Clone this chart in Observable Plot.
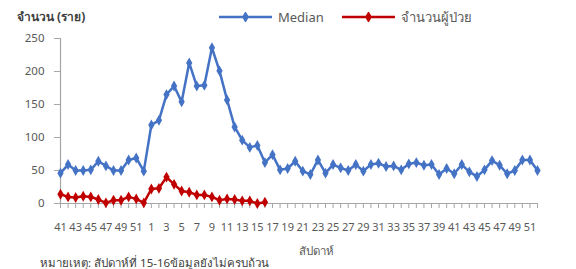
<!DOCTYPE html>
<html><head><meta charset="utf-8">
<script src="https://cdn.jsdelivr.net/npm/d3@7"></script>
<script src="https://cdn.jsdelivr.net/npm/@observablehq/plot@0.6"></script>
<style>
body{margin:0;width:576px;height:269px;overflow:hidden;background:#fff;font-family:"Noto Sans","DejaVu Sans",sans-serif;color:#595959;position:relative}
#top{position:relative;height:30px}
#title{position:absolute;left:17px;top:10px;font-weight:bold;font-size:12px;color:#404040;line-height:14px}
.leg{position:absolute;top:9px;font-size:13px;display:flex;align-items:center;line-height:16px}
.leg svg{margin-right:5px}
#xlab{position:absolute;left:0;top:244px;width:576px;text-align:left;font-size:11.5px;line-height:13px}
#xlab span{position:absolute;left:299px}
#cap{position:absolute;left:40px;top:256px;font-size:11.5px;line-height:13px;color:#404040}
#chart svg{display:block}
</style></head>
<body>
<div id="top">
  <div id="title">จำนวน (ราย)</div>
  <div class="leg" id="leg1" style="left:219px"></div>
  <div class="leg" id="leg2" style="left:342px"></div>
</div>
<div id="chart"></div>
<div id="xlab"><span>สัปดาห์</span></div>
<div id="cap">หมายเหตุ: สัปดาห์ที่ 15-16ข้อมูลยังไม่ครบถ้วน</div>
<script>
const weeks = [41,42,43,44,45,46,47,48,49,50,51,52,
  1,2,3,4,5,6,7,8,9,10,11,12,13,14,15,16,17,18,19,20,21,22,23,24,25,26,
  27,28,29,30,31,32,33,34,35,36,37,38,39,40,41,42,43,44,45,46,47,48,49,50,51,52];
const median = [46,59,50,50,51,64,57,50,50,66,69,49,
  119,126,165,178,154,213,178,179,236,201,157,116,96,85,88,62,74,51,53,64,49,44,66,46,59,54,
  50,59,49,59,61,56,57,51,60,62,58,59,44,53,45,59,48,41,51,65,58,45,50,66,66,50];
const patients = [14,10,9,11,10,6,1,5,5,10,7,1,
  22,23,40,29,19,17,13,13,10,5,7,6,4,4,0,2];
const yTicks = [0,50,100,150,200,250];
const seriesNames = ["Median","จำนวนผู้ป่วย"];
const colors = ["#4472C4","#C00000"];

const medData = median.map((v,i)=>({i,v}));
const patData = patients.map((v,i)=>({i,v}));
const font = '"Noto Sans","DejaVu Sans",sans-serif';

const chart = Plot.plot({
  width:576, height:213,
  marginTop:8, marginLeft:60, marginRight:39, marginBottom:40,
  x:{type:"linear", domain:[0, weeks.length-1]},
  y:{domain:[0,250]},
  style:{fontFamily:font, fontSize:"11px", color:"#595959", background:"#fff"},
  marks:[
    Plot.ruleX([0], {y1:0, y2:250, stroke:"#a6a6a6", strokeWidth:1.2}),
    Plot.ruleY([0], {stroke:"#a6a6a6", strokeWidth:1.2}),
    Plot.axisY({ticks:yTicks, tickSize:6, tickPadding:10, stroke:"#a6a6a6", fill:"#595959", label:null, fontSize:11.5}),
    Plot.axisX({ticks:d3.range(weeks.length), tickSize:5, tickFormat:()=>"", stroke:"#a6a6a6", label:null}),
    Plot.axisX({ticks:d3.range(0, weeks.length, 2), tickSize:0, tickPadding:20, tickFormat:i=>String(weeks[i]), fill:"#595959", label:null}),
    Plot.line(medData, {x:"i", y:"v", stroke:colors[0], strokeWidth:2.5}),
    Plot.dot(medData, {x:"i", y:"v", symbol:"diamond", r:3.3, fill:colors[0]}),
    Plot.line(patData, {x:"i", y:"v", stroke:colors[1], strokeWidth:2.5}),
    Plot.dot(patData, {x:"i", y:"v", symbol:"diamond", r:3.3, fill:colors[1]})
  ]
});
document.getElementById("chart").appendChild(chart);

function swatch(el, color, name){
  const s = d3.select(el).append("svg").attr("width",54).attr("height",10);
  s.append("line").attr("x1",0).attr("x2",53).attr("y1",5).attr("y2",5).attr("stroke",color).attr("stroke-width",2.5);
  s.append("path").attr("d", d3.symbol(d3.symbolDiamond, 40)()).attr("transform","translate(26.5,5)").attr("fill",color);
  d3.select(el).append("span").text(name);
}
swatch(document.getElementById("leg1"), colors[0], seriesNames[0]);
swatch(document.getElementById("leg2"), colors[1], seriesNames[1]);
</script>
</body></html>
